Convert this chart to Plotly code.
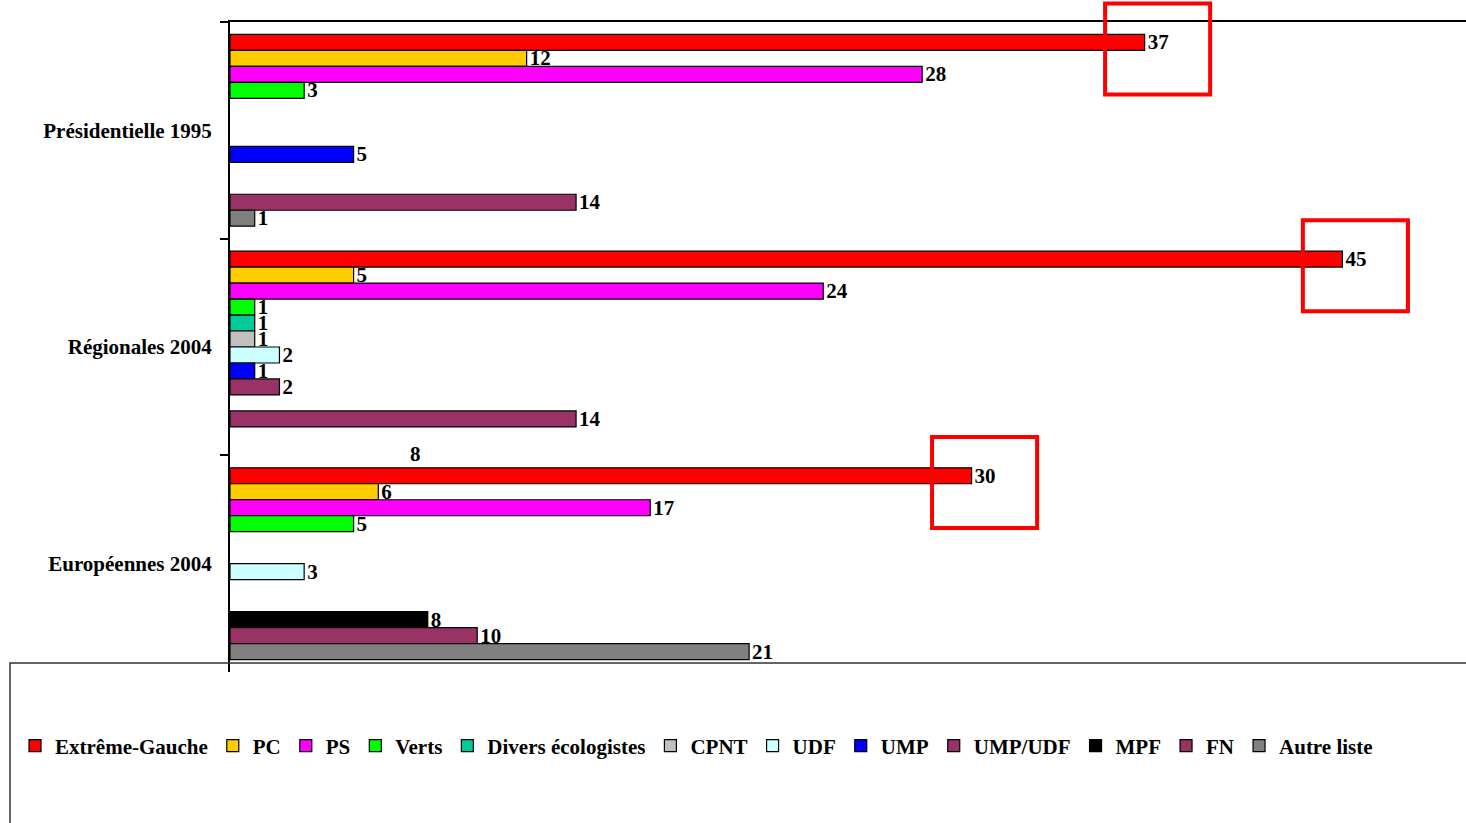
import plotly.graph_objects as go

categories = ["Présidentielle 1995", "Régionales 2004", "Européennes 2004"]
series_names = ["Extrême-Gauche", "PC", "PS", "Verts", "Divers écologistes", "CPNT",
                "UDF", "UMP", "UMP/UDF", "MPF", "FN", "Autre liste"]
extreme_gauche = [37, 45, 30]
pc = [12, 5, 6]
ps = [28, 24, 17]
verts = [3, 1, 5]
divers_eco = [None, 1, None]
cpnt = [None, 1, None]
udf = [None, 2, 3]
ump = [5, 1, None]
ump_udf = [None, 2, None]
mpf = [None, None, 8]
fn = [14, 14, 10]
autre = [1, None, 21]
series_values = [extreme_gauche, pc, ps, verts, divers_eco, cpnt, udf, ump, ump_udf, mpf, fn, autre]
colors = ["#FF0000", "#FFCC00", "#FF00FF", "#00FF00", "#00CC99", "#C0C0C0",
          "#CCFFFF", "#0000FF", "#993366", "#000000", "#993366", "#808080"]

# highlighted values (red frames) : (category index, value)
highlight_cat = [0, 1, 2]
highlight_val = [37, 45, 30]
# stray label seen in the original
stray_text = ["8"]
stray_x = [7.5]
stray_cat = [2]

FONT = "Liberation Serif"
FS = 21
XMAX = 50
NCAT = len(categories)


def cat_to_paper(c):
    # category axis is reversed: first category at top
    return 1 - (c + 0.5) / NCAT


fig = go.Figure()
for name, vals, col in zip(series_names, series_values, colors):
    fig.add_trace(go.Bar(
        y=categories, x=vals, name=name, orientation="h",
        marker=dict(color=col, line=dict(color="black", width=1.2)),
        text=[("" if v is None else str(v)) for v in vals],
        textposition="outside", constraintext="none", cliponaxis=False,
        textfont=dict(family=FONT, size=FS, color="black", weight="bold"),
    ))

shapes = []
for ci, v in zip(highlight_cat, highlight_val):
    shapes.append(dict(type="rect", xref="paper", yref="paper",
                       x0=(v - 1.6) / XMAX, x1=(v + 2.65) / XMAX,
                       y0=cat_to_paper(ci - 0.165), y1=cat_to_paper(ci - 0.585),
                       line=dict(color="#FF0000", width=4), layer="above"))
# legend frame
shapes.append(dict(type="rect", xref="paper", yref="paper",
                   x0=(10 - 230) / 1236, x1=1.02, y0=-0.3, y1=9 / 650,
                   line=dict(color="#333333", width=1.5), layer="above"))

annotations = []
for t, xv, ci in zip(stray_text, stray_x, stray_cat):
    annotations.append(dict(x=xv, y=ci - 0.506, xref="x", yref="y", text=t,
                            showarrow=False,
                            font=dict(family=FONT, size=FS, color="black", weight="bold")))

fig.update_layout(
    width=1466, height=823,
    margin=dict(l=230, r=0, t=22, b=151, autoexpand=False),
    paper_bgcolor="white", plot_bgcolor="white",
    barmode="group", bargap=0.115, bargroupgap=0,
    showlegend=True,
    legend=dict(orientation="h", xref="paper", yref="paper",
                x=(15 - 230) / 1236, y=(672 - 746) / 650, xanchor="left", yanchor="middle",
                font=dict(family=FONT, size=FS, color="black", weight="bold"),
                bgcolor="rgba(0,0,0,0)", borderwidth=0, traceorder="normal",
                itemclick=False),
    xaxis=dict(range=[0, XMAX], side="top", showline=True, linecolor="black",
               linewidth=1.5, showticklabels=False, ticks="", showgrid=False,
               zeroline=False),
    yaxis=dict(range=[NCAT - 0.5, -0.5], type="category", showline=True, linecolor="black",
               linewidth=2, ticks="outside", tickson="boundaries", ticklen=8,
               tickcolor="black", tickwidth=1.5, showgrid=False,
               tickfont=dict(family=FONT, size=FS, color="black", weight="bold"),
               ticklabelstandoff=12),
    shapes=shapes, annotations=annotations,
)

fig.write_html("out.html", config={"displayModeBar": False},
               post_script="document.body.style.margin='0';document.body.style.overflow='hidden';")
